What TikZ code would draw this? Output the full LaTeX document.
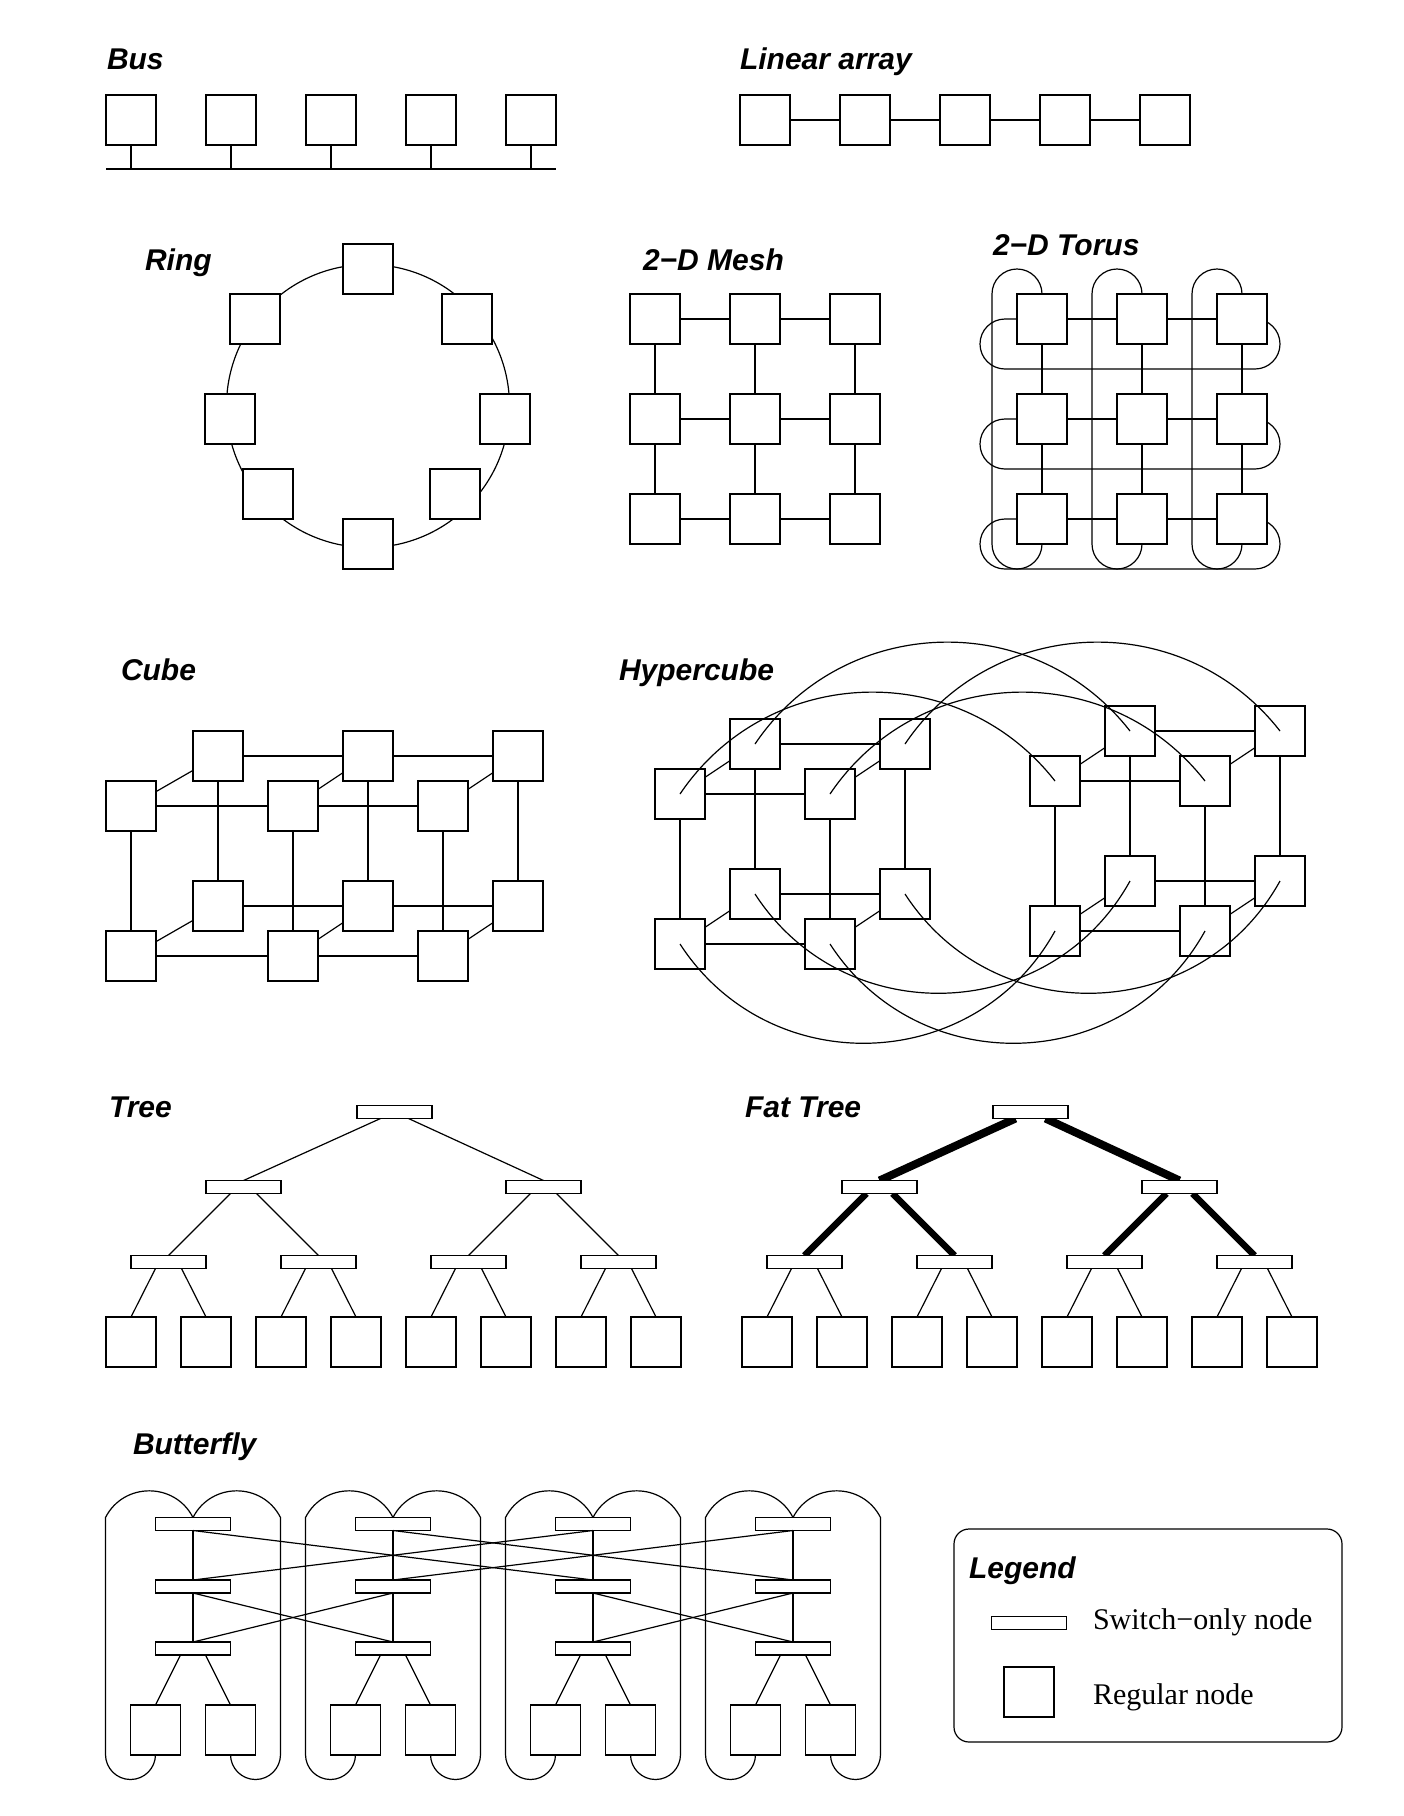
\documentclass[tikz,border=0pt]{standalone}
\usepackage{fontspec}
\setmainfont{Liberation Serif}
\setsansfont{Liberation Sans}
\usetikzlibrary{positioning,backgrounds}

\begin{document}
\begin{tikzpicture}
   [x=1pt, y=-1pt, line width=1.2pt,
    every on background layer/.style={line width=1.2pt},
    every node/.style={inner sep=0pt, outer sep=0pt},
    box/.style={draw, fill=white, minimum size=50pt},
    sw/.style={draw, fill=white, minimum width=75pt, minimum height=13pt},
    title/.style={anchor=base west, font=\sffamily\bfseries\itshape\fontsize{30}{36}\selectfont},
    lbl/.style={anchor=base west, font=\fontsize{30}{36}\selectfont}]
   \begin{scope}[on background layer]
      \fill[white] (0,0) rectangle (1404,1816);
   \end{scope}

   \node[title] (tbus) at (107,69) {Bus};
   \node[title] (tlin) at (740,69) {Linear array};
   \node[title] (tring) at (145,270) {Ring};
   \node[title] (tmesh) at (643,270) {2−D Mesh};
   \node[title] (ttorus) at (993,255) {2−D Torus};
   \node[title] (tcube) at (121,680) {Cube};
   \node[title] (thyper) at (619,680) {Hypercube};
   \node[title] (ttree) at (109,1117) {Tree};
   \node[title] (tfat) at (745,1117) {Fat Tree};
   \node[title] (tbfly) at (133,1454) {Butterfly};
   \node[title] (tleg) at (969,1578) {Legend};

   \node[box] (b1) at (131,120) {};
   \foreach \i [remember=\i as \j (initially 1)] in {2,...,5}
      \node[box, right=50pt of b\j] (b\i) {};
   \coordinate (busl) at (106,169);
   \coordinate (busr) at (556,169);
   \draw[line width=1.8pt] (busl) -- (busr);
   \foreach \i in {1,...,5}
      \draw (b\i) -- (b\i |- busl);

   \node[box] (l1) at (765,120) {};
   \foreach \i [remember=\i as \j (initially 1)] in {2,...,5} {
      \node[box, right=50pt of l\j] (l\i) {};
      \draw (l\j) -- (l\i);
   }

   \draw (368,406) circle[radius=141.5];
   \foreach \i/\p in {1/{368,269}, 2/{467,319}, 3/{505,419}, 4/{455,494}, 5/{368,544}, 6/{268,494}, 7/{230,419}, 8/{255,319}}
      \node[box] (r\i) at (\p) {};

   \foreach \r in {0,1,2}
      \foreach \c in {0,1,2} {
         \node[box] (m\r\c) at (655+100*\c,319+100*\r) {};
         \node[box] (t\r\c) at (1042+100*\c,319+100*\r) {};
      }
   \foreach \i in {0,1,2} {
      \draw (m\i0) -- (m\i1) -- (m\i2);
      \draw (m0\i) -- (m1\i) -- (m2\i);
      \draw (t\i0) -- (t\i1) -- (t\i2);
      \draw (t0\i) -- (t1\i) -- (t2\i);
   }
   \begin{scope}[on background layer]
      \foreach \i in {0,1,2} {
         \draw (t0\i.north) arc[start angle=0, end angle=-180, radius=25] -- ++(0,250) arc[start angle=180, end angle=0, radius=25];
         \draw (t\i0.west) -- ++(-12,0) arc[start angle=270, end angle=90, radius=25] -- ++(250,0) arc[start angle=90, end angle=-90, radius=25];
      }
   \end{scope}

   \foreach \i/\xf/\xb in {1/131/218, 2/293/368, 3/443/518} {
      \node[box] (cbt\i) at (\xb,756) {};
      \node[box] (cbb\i) at (\xb,906) {};
      \node[box] (cft\i) at (\xf,806) {};
      \node[box] (cfb\i) at (\xf,956) {};
      \draw (cft\i) -- (cfb\i);
      \draw (cbt\i) -- (cbb\i);
      \draw (cft\i) -- (cbt\i);
      \draw (cfb\i) -- (cbb\i);
   }
   \draw (cft1) -- (cft2) -- (cft3);
   \draw (cbt1) -- (cbt2) -- (cbt3);
   \draw (cfb1) -- (cfb2) -- (cfb3);
   \draw (cbb1) -- (cbb2) -- (cbb3);

   \foreach \s/\dx/\dy in {l/0/0, r/375/-13} {
      \foreach \k/\x/\y in {1/0/0, 2/150/0, 3/0/150, 4/150/150} {
         \node[box] (hb\s\k) at (755+\dx+\x,744+\dy+\y) {};
         \node[box] (hf\s\k) at (680+\dx+\x,794+\dy+\y) {};
      }
      \draw (hf\s1) -- (hf\s2) -- (hf\s4) -- (hf\s3) -- (hf\s1);
      \draw (hb\s1) -- (hb\s2) -- (hb\s4) -- (hb\s3) -- (hb\s1);
      \foreach \k in {1,...,4}
         \draw (hf\s\k) -- (hb\s\k);
   }
   \foreach \k in {1,2} {
      \draw (hbl\k.center) to[bend left=54, looseness=1.07] (hbr\k.center);
      \draw (hfl\k.center) to[bend left=54, looseness=1.07] (hfr\k.center);
   }
   \foreach \k in {3,4} {
      \draw (hbl\k.center) to[bend right=59, looseness=1.12] (hbr\k.center);
      \draw (hfl\k.center) to[bend right=59, looseness=1.12] (hfr\k.center);
   }

   \foreach \p/\dx/\wa/\wb/\oa in {t/0/1.2pt/1.2pt/14, f/636/8pt/6.5pt/15} {
      \node[sw] (\p-a) at (394.5+\dx,1112) {};
      \foreach \i in {0,1}
         \node[sw] (\p-b\i) at (243.5+\dx+300*\i,1187) {};
      \foreach \i in {0,...,3}
         \node[sw] (\p-c\i) at (168.5+\dx+150*\i,1262) {};
      \foreach \i in {0,...,7}
         \node[box] (\p-d\i) at (131+\dx+75*\i,1342) {};
      \begin{scope}[on background layer]
         \draw[line width=\wa] ([xshift=-\oa pt]\p-a.south) -- (\p-b0.north);
         \draw[line width=\wa] ([xshift=\oa pt]\p-a.south) -- (\p-b1.north);
         \foreach \i [evaluate=\i as \l using int(2*\i), evaluate=\i as \r using int(2*\i+1)] in {0,1} {
            \draw[line width=\wb] ([xshift=-13pt]\p-b\i.south) -- (\p-c\l.north);
            \draw[line width=\wb] ([xshift=13pt]\p-b\i.south) -- (\p-c\r.north);
         }
         \foreach \i [evaluate=\i as \l using int(2*\i), evaluate=\i as \r using int(2*\i+1)] in {0,...,3} {
            \draw ([xshift=-13pt]\p-c\i.south) -- (\p-d\l.north);
            \draw ([xshift=13pt]\p-c\i.south) -- (\p-d\r.north);
         }
      \end{scope}
   }

   \foreach \c in {0,...,3} {
      \foreach \r/\y in {1/1524, 2/1586.5, 3/1648.5}
         \node[sw] (s\c\r) at (193+200*\c,\y) {};
      \node[box] (q\c1) at (155.5+200*\c,1730) {};
      \node[box] (q\c2) at (230.5+200*\c,1730) {};
      \draw (s\c1) -- (s\c2) -- (s\c3);
      \draw ([xshift=-12.5pt]s\c3.south) -- (q\c1.north);
      \draw ([xshift=12.5pt]s\c3.south) -- (q\c2.north);
      \draw (s\c1.north) to[bend right=63, looseness=1.17] ++(-87.5,0) -- ++(0,237) arc[start angle=180, end angle=0, radius=25];
      \draw (s\c1.north) to[bend left=63, looseness=1.17] ++(87.5,0) -- ++(0,237) arc[start angle=0, end angle=180, radius=25];
   }
   \foreach \a/\b in {0/2, 2/0, 1/3, 3/1}
      \draw (s\a1.south) -- (s\b2.north);
   \foreach \a/\b in {0/1, 1/0, 2/3, 3/2}
      \draw (s\a2.south) -- (s\b3.north);

   \draw[rounded corners=15pt] (954,1529) rectangle (1342,1742);
   \node[sw] (legsw) at (1029,1623) {};
   \node[box] (legbox) at (1029,1692) {};
   \node[lbl] (legswt) at (1093,1629) {Switch−only node};
   \node[lbl] (legboxt) at (1093,1704) {Regular node};

   \pgfresetboundingbox
   \useasboundingbox (0,0) rectangle (1404,1816);
\end{tikzpicture}
\end{document}
